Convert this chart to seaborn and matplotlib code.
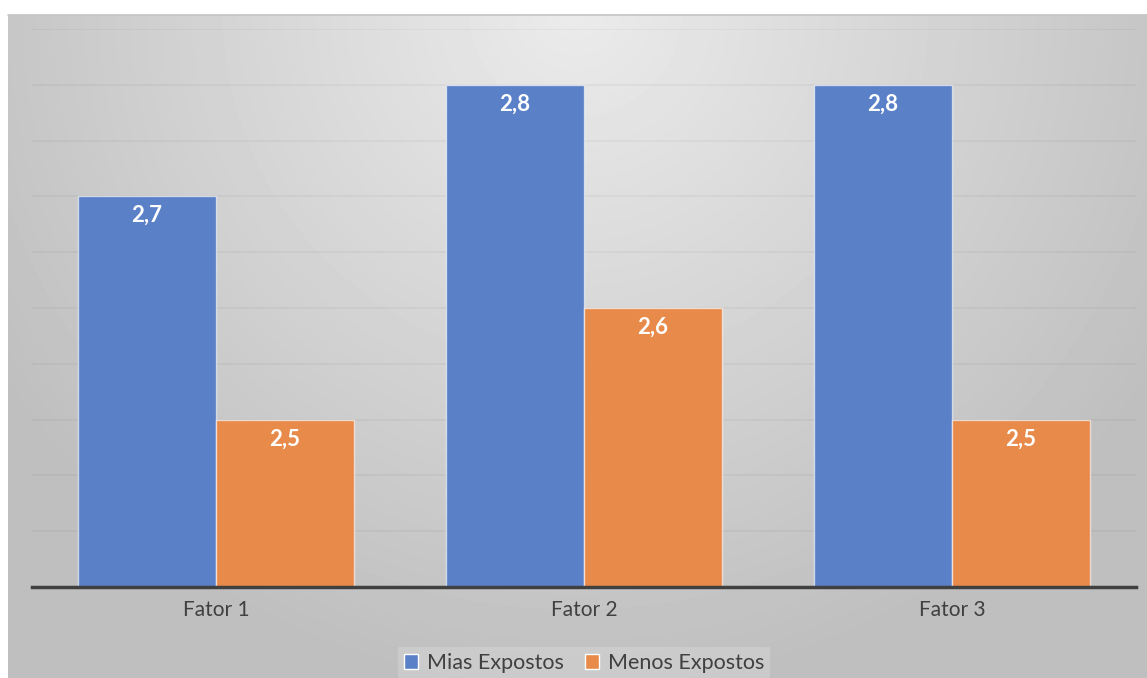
import matplotlib.pyplot as plt
import numpy as np
import pandas as pd
import seaborn as sns
from matplotlib.patches import Patch

# dados do gráfico
fatores = ['Fator 1', 'Fator 2', 'Fator 3']
mais_expostos = [2.7, 2.8, 2.8]
menos_expostos = [2.5, 2.6, 2.5]
grupos = ['Mias Expostos', 'Menos Expostos']

cores = ['#5A80C8', '#E88A4A']

df = pd.DataFrame({
    'fator': fatores * 2,
    'media': mais_expostos + menos_expostos,
    'grupo': [grupos[0]] * 3 + [grupos[1]] * 3,
})

sns.set_style('white')
plt.rcParams['font.family'] = ['Lato', 'DejaVu Sans']

W, H = 1147, 678
fig = plt.figure(figsize=(W / 100, H / 100), dpi=100)
fig.patch.set_facecolor('white')

# fundo com gradiente radial (claro no topo central, cinza nas bordas)
bg = fig.add_axes([8 / W, 0, (W - 8) / W, (H - 15) / H])
xs = np.arange(8, W)
ys = np.arange(15, H)
X, Y = np.meshgrid(xs, ys)
r = np.sqrt((X - 575) ** 2 + (Y - 10) ** 2)
tom = (235 - 44 * np.clip(r / 680, 0, 1)) / 255
bg.imshow(tom, cmap='gray', vmin=0, vmax=1, aspect='auto',
          interpolation='bilinear')
bg.axis('off')
fig.add_artist(plt.Line2D([8 / W, 1], [(H - 15) / H] * 2, color='#c4c4c4',
                          lw=1.2, transform=fig.transFigure))

ax = fig.add_axes([32 / W, (H - 587) / H, (1136 - 32) / W, (587 - 29) / H])
ax.set_facecolor('none')

sns.barplot(data=df, x='fator', y='media', hue='grupo', palette=cores,
            width=0.75, saturation=1, errorbar=None, legend=False,
            edgecolor=(1, 1, 1, 0.6), linewidth=1, ax=ax, zorder=2)

ax.set_ylim(2.35, 2.85)
ax.set_xlim(-0.5, 2.5)
ax.set_yticks(np.arange(2.40, 2.86, 0.05))
ax.yaxis.grid(True, color='black', alpha=0.035, lw=1.5, zorder=0)
ax.set_axisbelow(True)
ax.tick_params(axis='y', left=False, labelleft=False)
ax.tick_params(axis='x', length=0, pad=9, labelsize=15, labelcolor='#404040')
ax.set_xlabel('')
ax.set_ylabel('')
for lado in ['top', 'right', 'left']:
    ax.spines[lado].set_visible(False)
ax.spines['bottom'].set_color('#404040')
ax.spines['bottom'].set_linewidth(2.5)
ax.spines['bottom'].set_zorder(3)

# rótulos de dados dentro do topo das barras
for cont in ax.containers:
    for p in cont:
        v = p.get_height()
        ax.annotate(f'{v:.1f}'.replace('.', ','),
                    (p.get_x() + p.get_width() / 2, v),
                    xytext=(0, -18.5), textcoords='offset points',
                    ha='center', va='baseline', color='white',
                    fontsize=16, fontweight='bold', zorder=4)

handles = [Patch(facecolor=c) for c in cores]
leg = fig.legend(handles, grupos, loc='center',
                 bbox_to_anchor=(584 / W, 1 - 663 / H), ncol=2,
                 frameon=True, fancybox=False, facecolor='#e0e0e0',
                 edgecolor='none', framealpha=0.35, handlelength=0.65,
                 handleheight=0.65, handletextpad=0.4, columnspacing=1.0,
                 fontsize=15.5, labelcolor='#404040', borderpad=0.3)

fig.savefig('out.png', dpi=100)
